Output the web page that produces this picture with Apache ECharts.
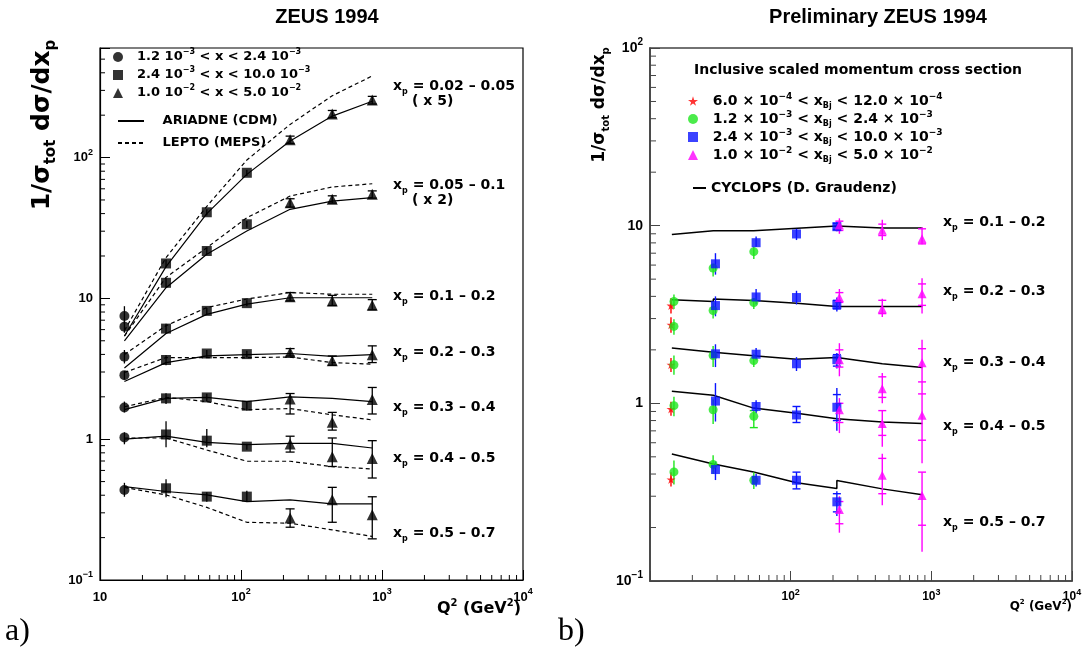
<!DOCTYPE html>
<html><head><meta charset="utf-8">
<script src="https://cdn.jsdelivr.net/npm/echarts@6/dist/echarts.min.js"></script>
<style>html,body{margin:0;padding:0;background:#fff}#c{width:1089px;height:649px}</style>
</head><body><div id="c"></div>
<script>
// ================= Panel a) ZEUS 1994 =================
const Q_A = [14.9, 29.4, 57.2, 110, 223, 444, 853];
const GROUP_A = [0, 1, 1, 1, 2, 2, 2];            // x-range sample of each Q bin
const LEG_A = ['1.2 10{s|−3} < x < 2.4 10{s|−3}', '2.4 10{s|−3} < x < 10.0 10{s|−3}', '1.0 10{s|−2} < x < 5.0 10{s|−2}'];
const XP_A = ['0.02 – 0.05', '0.05 – 0.1', '0.1 – 0.2', '0.2 – 0.3', '0.3 – 0.4', '0.4 – 0.5', '0.5 – 0.7'];
const SCALE_A = ['( x 5)', '( x 2)', '', '', '', '', ''];
const A_VAL = [
  [7.5, 17.7, 40.9, 78, 134, 204, 256],
  [6.3, 12.9, 21.7, 33.6, 47.8, 50.5, 54.8],
  [3.85, 6.1, 8.15, 9.25, 10.25, 9.6, 8.95],
  [2.85, 3.65, 4.06, 4.02, 4.13, 3.6, 3.98],
  [1.68, 1.95, 1.98, 1.73, 1.93, 1.32, 1.91],
  [1.03, 1.08, 0.976, 0.885, 0.925, 0.75, 0.73],
  [0.436, 0.448, 0.391, 0.391, 0.276, 0.371, 0.291]
];
const A_LO = [
  [6.6, 16.6, 38.8, 74, 126, 192, 240],
  [5.7, 11.9, 20.6, 31.8, 44.5, 47.5, 51.5],
  [3.45, 5.6, 7.75, 8.8, 9.6, 8.9, 8.3],
  [2.65, 3.35, 3.85, 3.8, 3.9, 3.35, 3.5],
  [1.55, 1.78, 1.85, 1.6, 1.51, 1.16, 1.51],
  [0.92, 0.875, 0.875, 0.84, 0.81, 0.64, 0.53],
  [0.39, 0.387, 0.36, 0.36, 0.237, 0.257, 0.196]
];
const A_HI = [
  [8.8, 18.9, 43, 82, 142, 216, 272],
  [6.9, 13.9, 22.8, 35.4, 51, 53.5, 58],
  [4.3, 6.6, 8.55, 9.7, 11.0, 10.5, 9.8],
  [3.05, 3.95, 4.3, 4.25, 4.4, 3.9, 4.6],
  [1.85, 2.12, 2.1, 1.85, 2.11, 1.55, 2.33],
  [1.12, 1.34, 1.18, 0.93, 1.05, 1.02, 0.976],
  [0.49, 0.52, 0.42, 0.43, 0.32, 0.455, 0.39]
];
const A_ARIADNE = [
  [5.4, 16.8, 40, 76, 131, 197, 251],
  [5.0, 11.9, 20.6, 30.1, 42.9, 49.1, 51.9],
  [3.2, 5.63, 7.7, 9.1, 10.1, 10.1, 10.1],
  [2.57, 3.5, 3.91, 3.98, 4.06, 3.87, 3.98],
  [1.62, 1.95, 1.98, 1.85, 2.0, 1.95, 1.85],
  [1.0, 1.05, 0.95, 0.914, 0.934, 0.934, 0.866],
  [0.461, 0.425, 0.402, 0.36, 0.371, 0.347, 0.347]
];
const A_LEPTO = [
  [5.9, 19.5, 45, 96, 172, 275, 380],
  [5.4, 14.1, 22.9, 37.4, 53.3, 61.8, 65.2],
  [4.0, 6.4, 8.6, 9.9, 11.0, 10.7, 10.7],
  [2.98, 3.8, 3.8, 3.8, 3.83, 3.5, 3.41],
  [1.70, 1.98, 1.85, 1.62, 1.65, 1.49, 1.37],
  [1.02, 1.02, 0.838, 0.697, 0.697, 0.638, 0.615],
  [0.455, 0.402, 0.328, 0.257, 0.253, 0.227, 0.204]
];

// ================= Panel b) Preliminary ZEUS 1994 =================
const XP_B = ['0.1 – 0.2', '0.2 – 0.3', '0.3 – 0.4', '0.4 – 0.5', '0.5 – 0.7'];
const LEG_B = ['6.0 × 10{s|−4} < x{b|Bj} < 12.0 × 10{s|−4}', '1.2 × 10{s|−3} < x{b|Bj} < 2.4 × 10{s|−3}',
               '2.4 × 10{s|−3} < x{b|Bj} < 10.0 × 10{s|−3}', '1.0 × 10{s|−2} < x{b|Bj} < 5.0 × 10{s|−2}'];
// rows: [Q2, value, errLow, errHigh, statLow, statHigh]  (0 = no stat mark)
const B_STAR = [
  [14.1, 2.77, 2.5, 3.05, 0, 0], [14.1, 3.55, 3.2, 3.9, 0, 0], [14.1, 1.65, 1.5, 1.8, 0, 0],
  [14.1, 0.93, 0.85, 1.02, 0, 0], [14.1, 0.373, 0.34, 0.41, 0, 0]
];
const B_CIRC = [
  [14.8, 2.71, 2.43, 2.97, 0, 0], [14.8, 3.74, 3.4, 4.1, 0, 0], [14.8, 1.65, 1.45, 1.86, 0, 0],
  [14.8, 0.97, 0.845, 1.09, 0, 0], [14.8, 0.411, 0.349, 0.476, 0, 0],
  [28.1, 5.77, 5.18, 6.1, 0, 0], [28.1, 3.33, 3.0, 3.7, 0, 0], [28.1, 1.86, 1.6, 2.1, 0, 0],
  [28.1, 0.92, 0.765, 1.05, 0, 0], [28.1, 0.453, 0.4, 0.51, 0, 0],
  [54.7, 7.14, 6.5, 7.6, 0, 0], [54.7, 3.69, 3.4, 3.9, 0, 0], [54.7, 1.74, 1.6, 1.9, 0, 0],
  [54.7, 0.845, 0.73, 0.91, 0.73, 0.91], [54.7, 0.369, 0.33, 0.41, 0, 0]
];
const B_SQ = [
  [29.2, 6.1, 5.3, 7.0, 0, 0], [29.2, 3.55, 3.09, 4.0, 0, 0], [29.2, 1.9, 1.6, 2.15, 0, 0],
  [29.2, 1.03, 0.79, 1.3, 0, 0], [29.2, 0.424, 0.37, 0.47, 0, 0],
  [56.8, 8.02, 7.6, 8.7, 0, 0], [56.8, 3.97, 3.6, 4.4, 0, 0], [56.8, 1.89, 1.75, 2.05, 0, 0],
  [56.8, 0.96, 0.88, 1.04, 0, 0], [56.8, 0.369, 0.34, 0.40, 0, 0],
  [110, 8.98, 8.3, 9.6, 0, 0], [110, 3.94, 3.6, 4.3, 0, 0], [110, 1.67, 1.52, 1.82, 0, 0],
  [110, 0.86, 0.78, 0.96, 0.78, 0.96], [110, 0.369, 0.33, 0.41, 0.33, 0.41],
  [213, 9.87, 9.3, 10.5, 9.5, 10.3], [213, 3.59, 3.29, 3.94, 3.4, 3.8], [213, 1.76, 1.57, 1.92, 1.62, 1.88],
  [213, 0.95, 0.70, 1.22, 0.80, 1.12], [213, 0.279, 0.232, 0.32, 0.245, 0.31]
];
const B_TRI = [
  [222, 10.1, 9.0, 11.0, 9.4, 10.6], [222, 3.94, 3.4, 4.4, 3.7, 4.2], [222, 1.76, 1.42, 2.18, 1.6, 2.0],
  [222, 0.92, 0.68, 1.07, 0.78, 1.0], [222, 0.253, 0.187, 0.30, 0.21, 0.28],
  [448, 9.41, 8.3, 10.8, 8.8, 10.2], [448, 3.41, 3.06, 3.88, 3.2, 3.8], [448, 1.21, 1.0, 1.48, 1.08, 1.41],
  [448, 0.769, 0.57, 0.91, 0.66, 0.91], [448, 0.394, 0.267, 0.52, 0.31, 0.49],
  [859, 8.45, 7.85, 9.8, 7.9, 9.6], [859, 4.14, 3.2, 5.06, 3.56, 4.7], [859, 1.69, 1.13, 2.28, 1.32, 2.03],
  [859, 0.856, 0.46, 1.13, 0.62, 1.13], [859, 0.303, 0.146, 0.41, 0.206, 0.41]
];
const B_CYCLOPS = [
  [[14.3, 8.93], [28.2, 9.37], [54.5, 9.37], [54.5, 9.53], [213, 9.96], [213, 9.75], [448, 9.7], [864, 9.7]],
  [[14.3, 3.83], [28.2, 3.74], [28.2, 3.87], [54.5, 3.79], [110.4, 3.66], [213, 3.51], [448, 3.51], [864, 3.51]],
  [[14.3, 2.05], [28.2, 1.94], [54.5, 1.85], [110.4, 1.77], [213, 1.81], [448, 1.67], [864, 1.59]],
  [[14.3, 1.17], [28.2, 1.11], [54.5, 0.94], [110.4, 0.88], [213, 0.82], [448, 0.785], [864, 0.769]],
  [[14.3, 0.519], [28.2, 0.456], [54.5, 0.411], [110.4, 0.357], [213, 0.332], [213, 0.368], [448, 0.33], [864, 0.306]]
];

// axis minor tick values
const MINOR_X = [20, 30, 40, 50, 60, 70, 80, 90, 200, 300, 400, 500, 600, 700, 800, 900, 2000, 3000, 4000, 5000, 6000, 7000, 8000, 9000];
const MINOR_Y_A = [0.2, 0.3, 0.4, 0.5, 0.6, 0.7, 0.8, 0.9, 2, 3, 4, 5, 6, 7, 8, 9, 20, 30, 40, 50, 60, 70, 80, 90, 200, 300, 400, 500];
const MINOR_Y_B = [0.2, 0.3, 0.4, 0.5, 0.6, 0.7, 0.8, 0.9, 2, 3, 4, 5, 6, 7, 8, 9, 20, 30, 40, 50, 60, 70, 80, 90];

// ================= drawing =================
const FONT = '"Liberation Sans", Arial, sans-serif';
const WFONT = '"DejaVu Sans", "Liberation Sans", sans-serif';
const chart = echarts.init(document.getElementById('c'), null, { renderer: 'canvas' });

function powLabel(hideTen) {
  return function (v) {
    const l = Math.log10(v), e = Math.round(l);
    if (Math.abs(l - e) > 1e-6) return '';
    if (e === 0) return '1';
    if (e === 1) return hideTen ? '' : '10';
    return '10{s|' + (e < 0 ? '−' + (-e) : e) + '}';
  };
}
function logAxis(grid, min, max, labelSize, hideTen, color, isX) {
  return {
    type: 'log', logBase: 10, gridIndex: grid, min: min, max: max,
    axisLine: { show: true, lineStyle: { color: color, width: grid === 0 ? 1.2 : 1.6 } },
    axisTick: { show: true, inside: true, length: 10, lineStyle: { color: color, width: 1 } },
    splitLine: { show: false }, minorTick: { show: false },
    axisLabel: {
      show: true, margin: 7, formatter: powLabel(hideTen), color: '#000',
      fontFamily: FONT, fontWeight: 'bold', fontSize: labelSize, lineHeight: Math.round(labelSize * 1.5),
      rich: { s: { fontSize: Math.round(labelSize * 0.72), fontWeight: 'bold', fontFamily: FONT, color: '#000', lineHeight: 10, verticalAlign: 'top' } }
    }
  };
}
function errRender(color, capHalf, lw) {
  return function (params, api) {
    const q = api.value(0), lo = api.value(2), hi = api.value(3), slo = api.value(4), shi = api.value(5);
    const a = api.coord([q, lo]), b = api.coord([q, hi]);
    const ch = [{ type: 'line', shape: { x1: a[0], y1: a[1], x2: b[0], y2: b[1] }, style: { stroke: color, lineWidth: lw } }];
    [slo, shi].forEach(function (v) {
      if (v > 0) {
        const p = api.coord([q, v]);
        ch.push({ type: 'line', shape: { x1: p[0] - capHalf, y1: p[1], x2: p[0] + capHalf, y2: p[1] }, style: { stroke: color, lineWidth: lw } });
      }
    });
    return { type: 'group', children: ch };
  };
}
function tickRender(dir, len, color) {
  return function (params, api) {
    const p = api.coord([api.value(0), api.value(1)]);
    const shape = dir === 'x' ? { x1: p[0], y1: p[1], x2: p[0], y2: p[1] - len } : { x1: p[0], y1: p[1], x2: p[0] + len, y2: p[1] };
    return { type: 'line', shape: shape, style: { stroke: color, lineWidth: 1 } };
  };
}

const series = [];
// minor ticks
series.push({ type: 'custom', xAxisIndex: 0, yAxisIndex: 0, silent: true, renderItem: tickRender('x', 5, '#000'), data: MINOR_X.map(q => [q, 0.1]), encode: { x: 0, y: 1 }, z: 1 });
series.push({ type: 'custom', xAxisIndex: 0, yAxisIndex: 0, silent: true, renderItem: tickRender('y', 5, '#000'), data: MINOR_Y_A.map(v => [10, v]), encode: { x: 0, y: 1 }, z: 1 });
series.push({ type: 'custom', xAxisIndex: 1, yAxisIndex: 1, silent: true, renderItem: tickRender('x', 6, '#444'), data: MINOR_X.map(q => [q, 0.1]), encode: { x: 0, y: 1 }, z: 1 });
series.push({ type: 'custom', xAxisIndex: 1, yAxisIndex: 1, silent: true, renderItem: tickRender('y', 6, '#444'), data: MINOR_Y_B.map(v => [10, v]), encode: { x: 0, y: 1 }, z: 1 });

// panel a: model curves
A_VAL.forEach(function (row, b) {
  series.push({ name: 'ARIADNE (CDM)', type: 'line', xAxisIndex: 0, yAxisIndex: 0, symbol: 'none', z: 2,
    lineStyle: { color: '#000', width: 1.2, type: 'solid' }, itemStyle: { color: '#000' },
    data: Q_A.map((q, i) => [q, A_ARIADNE[b][i]]) });
  series.push({ name: 'LEPTO (MEPS)', type: 'line', xAxisIndex: 0, yAxisIndex: 0, symbol: 'none', z: 2,
    lineStyle: { color: '#000', width: 1.2, type: [4, 3] }, itemStyle: { color: '#000' },
    data: Q_A.map((q, i) => [q, A_LEPTO[b][i]]) });
});
// panel a: data points per x-range sample
const A_SYMBOL = ['circle', 'rect', 'triangle'];
[0, 1, 2].forEach(function (g) {
  const pts = [], errs = [];
  A_VAL.forEach(function (row, b) {
    row.forEach(function (v, i) {
      if (GROUP_A[i] !== g) return;
      pts.push([Q_A[i], v]);
      errs.push([Q_A[i], v, A_LO[b][i], A_HI[b][i], g === 2 ? A_LO[b][i] : 0, g === 2 ? A_HI[b][i] : 0]);
    });
  });
  series.push({ type: 'custom', xAxisIndex: 0, yAxisIndex: 0, silent: true, z: 3, itemStyle: { color: '#000' },
    renderItem: errRender('#000', 4.5, 1.3), data: errs, encode: { x: 0, y: [2, 3] } });
  series.push({ name: 'a' + g, type: 'scatter', xAxisIndex: 0, yAxisIndex: 0, z: 4,
    symbol: A_SYMBOL[g], symbolSize: g === 2 ? 11 : 10, itemStyle: { color: '#000' }, data: pts });
});

// panel b: CYCLOPS curves
B_CYCLOPS.forEach(function (pts) {
  series.push({ name: 'CYCLOPS (D. Graudenz)', type: 'line', xAxisIndex: 1, yAxisIndex: 1, symbol: 'none', z: 2,
    lineStyle: { color: '#000', width: 1.5 }, itemStyle: { color: '#000' }, data: pts });
});
const STAR = 'path://M50,0 L61,35 L98,35 L68,57 L79,91 L50,70 L21,91 L32,57 L2,35 L39,35 Z';
const B_SETS = [
  { rows: B_STAR, color: '#ff0000', symbol: STAR, size: 9 },
  { rows: B_CIRC, color: '#1ee61e', symbol: 'circle', size: 9 },
  { rows: B_SQ, color: '#0a14ff', symbol: 'rect', size: 9 },
  { rows: B_TRI, color: '#ff00ff', symbol: 'triangle', size: 9 }
];
B_SETS.forEach(function (s, k) {
  series.push({ type: 'custom', xAxisIndex: 1, yAxisIndex: 1, silent: true, z: 3, itemStyle: { color: s.color },
    renderItem: errRender(s.color, 4, 1.4), data: s.rows, encode: { x: 0, y: [2, 3] } });
  series.push({ name: 'b' + k, type: 'scatter', xAxisIndex: 1, yAxisIndex: 1, z: 4,
    symbol: s.symbol, symbolSize: s.size, itemStyle: { color: s.color }, data: s.rows.map(r => [r[0], r[1]]) });
});

const LEGEND_TEXT = { a0: LEG_A[0], a1: LEG_A[1], a2: LEG_A[2], b0: LEG_B[0], b1: LEG_B[1], b2: LEG_B[2], b3: LEG_B[3] };
function legRich(size) {
  return {
    s: { fontSize: Math.round(size * 0.64), fontWeight: 'bold', fontFamily: WFONT, color: '#000', lineHeight: 10, verticalAlign: 'top' },
    b: { fontSize: Math.round(size * 0.6), fontWeight: 'bold', fontFamily: WFONT, color: '#000', lineHeight: 10, verticalAlign: 'bottom' }
  };
}
function legend(opt) {
  return Object.assign({
    orient: 'vertical', selectedMode: false, itemGap: 0, itemWidth: 10, itemHeight: 10, padding: 0,
    formatter: function (n) { return (opt.pre || '') + (LEGEND_TEXT[n] || n); },
    textStyle: { fontFamily: WFONT, fontWeight: 'bold', fontSize: opt.fs, color: '#000', lineHeight: opt.lh, rich: legRich(opt.fs) }
  }, opt.base);
}

function txt(x, y, text, size, opt) {
  opt = opt || {};
  const sub = Math.round(size * 0.6);
  const fam = opt.family || WFONT;
  return {
    type: 'text', x: x, y: y, rotation: opt.rot || 0, z: 10,
    style: {
      text: text, fill: '#000', fontFamily: fam, fontWeight: opt.weight || 'bold', fontSize: size,
      align: opt.align || 'left', textAlign: opt.align || 'left', verticalAlign: 'middle', textVerticalAlign: 'middle',
      lineHeight: Math.round(size * 1.35),
      rich: {
        s: { fontSize: sub, fontWeight: 'bold', fontFamily: fam, fill: '#000', lineHeight: Math.round(sub * 1.1), verticalAlign: 'top' },
        sb: { fontSize: sub, fontWeight: 'bold', fontFamily: fam, fill: '#000', lineHeight: Math.round(sub * 1.1), verticalAlign: 'bottom' }
      }
    }
  };
}

const graphics = [
  txt(327, 17, 'ZEUS 1994', 20, { align: 'center', family: FONT }),
  txt(878, 17, 'Preliminary ZEUS 1994', 20, { align: 'center', family: FONT }),
  txt(42, 125, '1/σ{sb|tot} dσ/dx{sb|p}', 25, { align: 'center', rot: Math.PI / 2 }),
  txt(600, 105, '1/σ{sb|tot} dσ/dx{sb|p}', 17, { align: 'center', rot: Math.PI / 2 }),
  txt(521, 609, 'Q{s|2} (GeV{s|2})', 16, { align: 'right' }),
  txt(1072, 607, 'Q{s|2} (GeV{s|2})', 12, { align: 'right' }),
  txt(5, 632, 'a)', 32, { family: '"Liberation Serif", "DejaVu Serif", serif', weight: 'normal' }),
  txt(558, 632, 'b)', 32, { family: '"Liberation Serif", "DejaVu Serif", serif', weight: 'normal' }),
  txt(858, 70, 'Inclusive scaled momentum cross section', 14, { align: 'center' })
];
const LAB_A_Y = [86, 185, 296, 352, 407, 458, 533];
XP_A.forEach(function (t, b) {
  graphics.push(txt(393, LAB_A_Y[b], 'x{sb|p} = ' + t, 14));
  if (SCALE_A[b]) graphics.push(txt(412, LAB_A_Y[b] + 15, SCALE_A[b], 14));
});
const LAB_B_Y = [222, 291, 362, 426, 522];
XP_B.forEach(function (t, b) { graphics.push(txt(943, LAB_B_Y[b], 'x{sb|p} = ' + t, 14)); });

chart.setOption({
  animation: false,
  backgroundColor: '#fff',
  grid: [
    { left: 100, top: 48, width: 423, height: 532, show: true, borderColor: '#000', borderWidth: 1.2, backgroundColor: 'transparent' },
    { left: 650, top: 48, width: 422, height: 533, show: true, borderColor: '#444', borderWidth: 1.6, backgroundColor: 'transparent' }
  ],
  xAxis: [logAxis(0, 10, 10000, 13, false, '#000', true), logAxis(1, 10, 10000, 12, true, '#444', true)],
  yAxis: [logAxis(0, 0.1, 600, 13, false, '#000', false), logAxis(1, 0.1, 100, 14, false, '#444', false)],
  legend: [
    legend({ fs: 13, lh: 18, pre: '  ', base: { left: 113, top: 48, data: [{ name: 'a0' }, { name: 'a1' }, { name: 'a2' }] } }),
    legend({ fs: 13, lh: 22, pre: '   ', base: { left: 117, top: 110, itemWidth: 26, itemHeight: 12, itemStyle: { opacity: 0 }, data: [{ name: 'ARIADNE (CDM)' }, { name: 'LEPTO (MEPS)' }] } }),
    legend({ fs: 14, lh: 18, pre: '  ', base: { left: 688, top: 92, data: [{ name: 'b0' }, { name: 'b1' }, { name: 'b2' }, { name: 'b3' }] } }),
    legend({ fs: 14, lh: 18, pre: '', base: { left: 692, top: 179, itemWidth: 13, itemHeight: 14, itemStyle: { opacity: 0 }, data: [{ name: 'CYCLOPS (D. Graudenz)' }] } })
  ],
  graphic: graphics,
  series: series
});
</script></body></html>
